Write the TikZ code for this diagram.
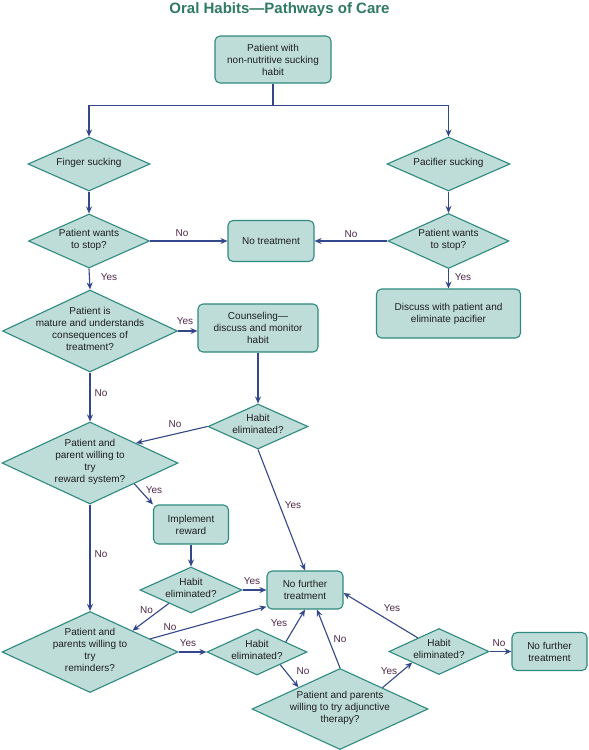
\documentclass[tikz,border=0pt]{standalone}
\usepackage{fontspec}
\setmainfont{Liberation Sans}
\usetikzlibrary{shapes.geometric,arrows.meta,calc}
\definecolor{boxfill}{HTML}{BEDDD9}
\definecolor{boxline}{HTML}{2E8A7E}
\definecolor{arrowc}{HTML}{34478A}
\definecolor{labc}{HTML}{4E2A48}
\definecolor{titlec}{HTML}{2F7A62}
\definecolor{txtc}{HTML}{1E1E1E}
\newcommand{\dtext}[1]{\makebox[0pt]{\raisebox{-2.2pt}{\smash{\begin{tabular}{@{}c@{}}#1\end{tabular}}}}}
\begin{document}
\begin{tikzpicture}[x=1pt,y=-1pt,
  rbox/.style={rectangle, draw=boxline, fill=boxfill, line width=1.1pt, rounded corners=5pt, inner sep=0pt, align=center, font=\fontsize{10}{12}\selectfont, text=txtc},
  dia/.style={diamond, draw=boxline, fill=boxfill, line width=1.1pt, inner sep=0pt, font=\fontsize{10}{12}\selectfont, text=txtc},
  arr/.style={draw=arrowc, line width=1.1pt, -{Stealth[length=7pt,width=6pt]}},
  lab/.style={font=\fontsize{10}{12}\selectfont, text=labc, inner sep=0pt}]
\useasboundingbox (0,0) rectangle (589,750);
\fill[white] (0,0) rectangle (589,750);

\node[font=\bfseries\fontsize{15}{18}\selectfont, text=titlec, anchor=base] (title) at (279.5,13) {Oral Habits—Pathways of Care};

% boxes
\node[rbox, minimum width=116pt, minimum height=47pt] (top) at (273,59.5) {Patient with\\non-nutritive sucking\\habit};
\node[rbox, minimum width=86pt, minimum height=41pt] (nt) at (271,241) {No treatment};
\node[rbox, minimum width=144pt, minimum height=49pt] (disc) at (448.5,313.5) {Discuss with patient and\\eliminate pacifier};
\node[rbox, minimum width=120pt, minimum height=48pt] (couns) at (258,328) {Counseling—\\discuss and monitor\\habit};
\node[rbox, minimum width=75pt, minimum height=39pt] (impl) at (191,524.5) {Implement\\reward};
\node[rbox, minimum width=76pt, minimum height=38pt] (nft) at (305,590) {No further\\treatment};
\node[rbox, minimum width=75pt, minimum height=38pt] (nft2) at (549.5,651.5) {No further\\treatment};

% diamonds
\node[dia, minimum width=122pt, minimum height=54pt] (fing) at (89,164) {\dtext{Finger sucking}};
\node[dia, minimum width=123pt, minimum height=54pt] (pac) at (448.5,164) {\dtext{Pacifier sucking}};
\node[dia, minimum width=121pt, minimum height=54pt] (sl) at (89,241) {\dtext{Patient wants\\to stop?}};
\node[dia, minimum width=121pt, minimum height=55pt] (sr) at (448.5,241) {\dtext{Patient wants\\to stop?}};
\node[dia, minimum width=175pt, minimum height=82pt] (mat) at (90,331) {\dtext{Patient is\\mature and understands\\consequences of\\treatment?}};
\node[dia, minimum width=100pt, minimum height=45pt] (h1) at (258,426.5) {\dtext{Habit\\eliminated?}};
\node[dia, minimum width=176pt, minimum height=82pt] (rew) at (90,463) {\dtext{Patient and\\parent willing to\\try\\reward system?}};
\node[dia, minimum width=102pt, minimum height=46pt] (h2) at (191,590) {\dtext{Habit\\eliminated?}};
\node[dia, minimum width=176pt, minimum height=81pt] (rem) at (90,652) {\dtext{Patient and\\parents willing to\\try\\reminders?}};
\node[dia, minimum width=100pt, minimum height=46pt] (h3) at (257,652) {\dtext{Habit\\eliminated?}};
\node[dia, minimum width=176pt, minimum height=81pt] (adj) at (340,709) {\dtext{Patient and parents\\willing to try adjunctive\\therapy?}};
\node[dia, minimum width=100pt, minimum height=46pt] (h4) at (439,651.5) {\dtext{Habit\\eliminated?}};

% connectors
\draw[arr] (top.south) -- ++(0,22) -| (fing.north);
\draw[arr] (top.south) -- ++(0,22) -| (pac.north);
\draw[arr] (fing.south) -- (sl.north);
\draw[arr] (pac.south) -- (sr.north);
\draw[arr] (sl.east) -- (nt.west);
\draw[arr] (sr.west) -- (nt.east);
\draw[arr] (sr.south) -- (disc.north);
\draw[arr] (sl.south) -- (mat.north);
\draw[arr] (mat.east) -- (mat.east -| couns.west);
\draw[arr] (couns.south) -- (h1.north);
\draw[arr] (h1.west) -- ($(rew.north)!0.52!(rew.east)$);
\draw[arr] (mat.south) -- (rew.north);
\draw[arr] ($(rew.east)!0.5!(rew.south)$) -- (impl.north west);
\draw[arr] (h1.south) -- (nft.north);
\draw[arr] (impl.south) -- (h2.north);
\draw[arr] (h2.east) -- (nft.west);
\draw[arr] ($(h2.west)!0.57!(h2.south)$) -- ($(rem.north)!0.48!(rem.east)$);
\draw[arr] (rew.south) -- (rem.north);
\draw[arr] ($(rem.north)!0.68!(rem.east)$) -- ($(nft.west)!0.85!(nft.south west)$);
\draw[arr] (rem.east) -- (h3.west);
\draw[arr] ($(h3.north)!0.57!(h3.east)$) -- (nft.south);
\draw[arr] ($(h3.east)!0.54!(h3.south)$) -- ($(adj.north)!0.47!(adj.west)$);
\draw[arr] (adj.north) -- ($(nft.south)+(12,0)$);
\draw[arr] ($(adj.north)!0.48!(adj.east)$) -- ($(h4.west)!0.47!(h4.south)$);
\draw[arr] ($(h4.west)!0.58!(h4.north)$) -- ($(nft.east)+(0,3)$);
\draw[arr] (h4.east) -- (nft2.west);

% labels
\node[lab] (l1) at (182,233) {No};
\node[lab] (l2) at (351,234) {No};
\node[lab] (l3) at (109,277) {Yes};
\node[lab] (l4) at (463,277) {Yes};
\node[lab] (l5) at (185,321) {Yes};
\node[lab] (l6) at (101,393) {No};
\node[lab] (l7) at (175,424) {No};
\node[lab] (l8) at (154,490) {Yes};
\node[lab] (l9) at (293,505) {Yes};
\node[lab] (l10) at (101,554) {No};
\node[lab] (l11) at (252,581) {Yes};
\node[lab] (l12) at (146.5,610) {No};
\node[lab] (l13) at (170,627) {No};
\node[lab] (l14) at (188,643) {Yes};
\node[lab] (l15) at (279,623) {Yes};
\node[lab] (l16) at (303,671) {No};
\node[lab] (l17) at (340,639) {No};
\node[lab] (l18) at (389,671) {Yes};
\node[lab] (l19) at (392,608) {Yes};
\node[lab] (l20) at (499,643) {No};
\end{tikzpicture}
\end{document}
